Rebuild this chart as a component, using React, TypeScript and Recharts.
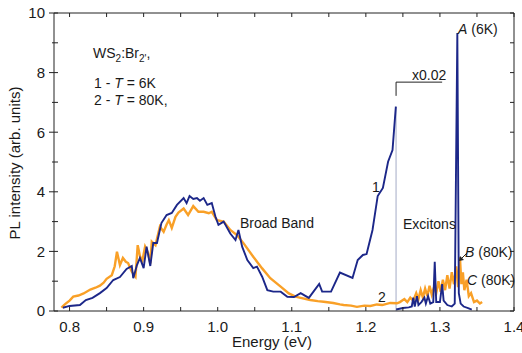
import React from "react";
import { LineChart, Line, XAxis, YAxis, ReferenceLine } from "recharts";

// curve 2 (T = 80K)
const orangeE = [
	0.789, 0.794, 0.8, 0.805, 0.812, 0.819, 0.828, 0.835, 0.841, 0.846, 0.85, 0.857, 0.861, 0.864, 0.868, 0.872,
	0.876, 0.879, 0.884, 0.889, 0.892, 0.895, 0.898, 0.902, 0.906, 0.909, 0.911, 0.916, 0.922, 0.927, 0.931, 0.934,
	0.938, 0.943, 0.947, 0.954, 0.96, 0.967, 0.974, 0.981, 0.988, 0.992, 0.999, 1.008, 1.017, 1.026, 1.035, 1.048,
	1.06, 1.071, 1.085, 1.096, 1.105, 1.112, 1.125, 1.135, 1.143, 1.156, 1.165, 1.17, 1.18, 1.188, 1.198, 1.206,
	1.215, 1.222, 1.233, 1.242, 1.246, 1.252, 1.256, 1.26, 1.264, 1.268, 1.271, 1.274, 1.277, 1.28, 1.283, 1.286,
	1.289, 1.292, 1.295, 1.298, 1.301, 1.304, 1.307, 1.31, 1.313, 1.316, 1.319, 1.322, 1.3245, 1.327, 1.329, 1.331,
	1.333, 1.336, 1.339, 1.342, 1.346, 1.35, 1.354, 1.357,
];
const orangeI = [
	0.11, 0.23, 0.35, 0.48, 0.52, 0.59, 0.72, 0.78, 0.85, 0.95, 1.08, 1.2, 1.5, 1.99, 1.54, 1.78,
	1.65, 1.61, 1.32, 1.15, 2.21, 1.85, 1.65, 2.16, 1.95, 1.6, 2.33, 2.21, 2.83, 2.66, 2.9, 3.05,
	2.79, 3.16, 3.3, 3.44, 3.22, 3.52, 3.33, 3.33, 3.28, 3.33, 3.05, 3.0, 2.72, 2.55, 2.27, 1.82,
	1.43, 1.1, 0.82, 0.59, 0.48, 0.44, 0.37, 0.33, 0.31, 0.27, 0.22, 0.2, 0.18, 0.14, 0.18, 0.17,
	0.22, 0.2, 0.27, 0.26, 0.3, 0.4, 0.3, 0.45, 0.35, 0.6, 0.4, 0.7, 0.45, 0.75, 0.5, 0.85,
	0.55, 0.8, 0.6, 1.0, 0.65, 1.05, 0.7, 1.2, 0.75, 1.3, 0.9, 1.5, 0.8, 1.8, 0.9, 1.3,
	0.7, 1.05, 0.5, 0.6, 0.3, 0.35, 0.25, 0.3,
];

// curve 1 (T = 6K); null breaks the line where the x0.02 part starts
const blueE = [
	0.791, 0.8, 0.814, 0.822, 0.831, 0.841, 0.85, 0.859, 0.868, 0.877, 0.884, 0.886, 0.891, 0.895, 0.9, 0.904,
	0.909, 0.913, 0.918, 0.924, 0.931, 0.938, 0.945, 0.954, 0.958, 0.962, 0.967, 0.972, 0.976, 0.981, 0.986, 0.992,
	0.997, 1.001, 1.008, 1.017, 1.024, 1.028, 1.033, 1.04, 1.048, 1.053, 1.06, 1.067, 1.075, 1.085, 1.094, 1.103,
	1.112, 1.123, 1.137, 1.141, 1.153, 1.165, 1.182, 1.189, 1.196, 1.201, 1.209, 1.216, 1.223, 1.23, 1.236, 1.2405,
	1.2407, 1.2409, 1.25, 1.258, 1.262, 1.264, 1.266, 1.269, 1.271, 1.275, 1.279, 1.281, 1.284, 1.287, 1.291, 1.293,
	1.295, 1.3, 1.303, 1.305, 1.31, 1.316, 1.32, 1.3235, 1.3255, 1.328, 1.332, 1.338, 1.343,
];
const blueI = [
	0.11, 0.17, 0.2, 0.37, 0.44, 0.6, 0.77, 1.04, 1.14, 1.41, 1.51, 1.1, 1.54, 1.78, 1.44, 2.16,
	1.51, 2.28, 2.28, 2.95, 3.22, 3.29, 3.56, 3.79, 3.62, 3.86, 3.76, 3.79, 3.7, 3.79, 3.56, 3.62,
	3.16, 2.89, 3.0, 2.6, 2.38, 2.72, 2.16, 1.71, 1.44, 1.49, 1.15, 0.7, 0.65, 0.65, 0.48, 0.47,
	0.6, 0.44, 0.91, 0.65, 0.65, 1.29, 1.11, 1.71, 1.88, 1.91, 2.72, 3.86, 4.13, 5.01, 5.4, 6.86,
	null, 0.05, 0.1, 0.12, 0.15, 0.45, 0.15, 0.5, 0.2, 0.3, 0.45, 0.25, 0.5, 0.25, 0.3, 1.65,
	0.3, 0.3, 0.9, 0.35, 0.2, 0.15, 0.25, 9.33, 0.6, 0.25, 0.15, 0.1, 0.05,
];

const xTicks = [0.8, 0.85, 0.9, 0.95, 1.0, 1.05, 1.1, 1.15, 1.2, 1.25, 1.3, 1.35, 1.4];
const xLabelTicks = [0.8, 0.9, 1.0, 1.1, 1.2, 1.3, 1.4];
const yTicks = [0, 1, 2, 3, 4, 5, 6, 7, 8, 9, 10];
const yLabelTicks = [0, 2, 4, 6, 8, 10];

const orangeData = orangeE.map((e, i) => ({ e, v: orangeI[i] }));
const blueData = blueE.map((e, i) => ({ e, v: blueI[i] }));

const BLUE = "#1c2789";
const ORANGE = "#f9a027";
const FONT = "'Liberation Sans', Arial, sans-serif";
const INK = "#1a1a1a";
const AXIS = "#222";

// plot frame in pixels (chart margins + axis sizes)
const PLOT = { left: 54, right: 514, top: 13, bottom: 311 };

const isLabelled = (v: number, list: number[]) => list.some((t) => Math.abs(t - v) < 1e-6);

// bottom/top inward tick marks + label at the major values
const XTick = ({ x, y, payload }: any) => {
	const v = payload.value as number;
	return (
		<g>
			<line x1={x} x2={x} y1={PLOT.bottom} y2={PLOT.bottom - 4} stroke={AXIS} />
			<line x1={x} x2={x} y1={PLOT.top} y2={PLOT.top + 4} stroke={AXIS} />
			{isLabelled(v, xLabelTicks) && (
				<text x={x} y={y} dy="0.71em" textAnchor="middle" fontSize={15} fill={INK} fontFamily={FONT}>
					{v.toFixed(1)}
				</text>
			)}
		</g>
	);
};

// left ticks cross the axis, right ones point inward
const YTick = ({ x, y, payload }: any) => {
	const v = payload.value as number;
	const major = isLabelled(v, yLabelTicks);
	return (
		<g>
			<line x1={PLOT.left - (major ? 5 : 2)} x2={PLOT.left + 4} y1={y} y2={y} stroke={AXIS} />
			<line x1={PLOT.right} x2={PLOT.right - 4} y1={y} y2={y} stroke={AXIS} />
			{major && (
				<text x={x} y={y} dy="0.355em" textAnchor="end" fontSize={15} fill={INK} fontFamily={FONT}>
					{v}
				</text>
			)}
		</g>
	);
};

const App: React.FC = () => {
	return (
		<div
			style={{
				position: "absolute",
				left: 0,
				top: 0,
				width: 522,
				height: 353,
				background: "#fff",
				fontFamily: FONT,
			}}
		>
			<LineChart
				width={522}
				height={353}
				margin={{ top: 13, right: 8, left: 0, bottom: 0 }}
			>
				<XAxis
					type="number"
					dataKey="e"
					domain={[0.779, 1.4]}
					allowDataOverflow
					ticks={xTicks}
					interval={0}
					height={42}
					tickLine={false}
					tickSize={6}
					tickMargin={4}
					stroke={AXIS}
					tick={<XTick />}
				/>
				<YAxis
					type="number"
					domain={[0, 10]}
					ticks={yTicks}
					interval={0}
					width={54}
					tickLine={false}
					tickSize={5}
					tickMargin={4}
					stroke={AXIS}
					tick={<YTick />}
				/>

				{/* frame: top and right edges */}
				<ReferenceLine y={10} stroke={AXIS} strokeWidth={1} />
				<ReferenceLine x={1.4} stroke={AXIS} strokeWidth={1} />

				<ReferenceLine
					segment={[
						{ x: 1.2408, y: 0 },
						{ x: 1.2408, y: 6.86 },
					]}
					stroke="#c3c7d9"
					strokeWidth={1.5}
				/>
				<ReferenceLine
					segment={[
						{ x: 1.2408, y: 7.22 },
						{ x: 1.2408, y: 7.68 },
					]}
					stroke={AXIS}
					strokeWidth={1}
				/>
				<ReferenceLine
					segment={[
						{ x: 1.2408, y: 7.68 },
						{ x: 1.303, y: 7.68 },
					]}
					stroke={AXIS}
					strokeWidth={1}
				/>

				<Line
					data={orangeData}
					dataKey="v"
					type="linear"
					stroke={ORANGE}
					strokeWidth={2.4}
					dot={false}
					isAnimationActive={false}
				/>
				<Line
					data={blueData}
					dataKey="v"
					type="linear"
					stroke={BLUE}
					strokeWidth={1.9}
					dot={false}
					connectNulls={false}
					isAnimationActive={false}
				/>
			</LineChart>

			<svg
				width={522}
				height={353}
				style={{ position: "absolute", left: 0, top: 0, pointerEvents: "none" }}
				fontFamily={FONT}
				fill={INK}
			>
				<text x={14} y={163} fontSize={15} textAnchor="middle" dominantBaseline="central" transform="rotate(-90 14 163)">
					PL intensity (arb. units)
				</text>
				<text x={272} y={347} fontSize={15} textAnchor="middle">
					Energy (eV)
				</text>

				<text x={93} y={58} fontSize={14}>
					WS<tspan fontSize={10} dy={4}>2</tspan>
					<tspan dy={-4}>:Br</tspan>
					<tspan fontSize={10} dy={4}>2'</tspan>
					<tspan dy={-4}>,</tspan>
				</text>
				<text x={94} y={88} fontSize={14}>
					1 - <tspan fontStyle="italic">T</tspan> = 6K
				</text>
				<text x={94} y={105} fontSize={14}>
					2 - <tspan fontStyle="italic">T</tspan> = 80K,
				</text>

				<text x={412} y={80} fontSize={14}>x0.02</text>
				<text x={458} y={34} fontSize={14}>
					<tspan fontStyle="italic">A</tspan> (6K)
				</text>
				<text x={240} y={228} fontSize={14}>Broad Band</text>
				<text x={403} y={229} fontSize={14}>Excitons</text>
				<text x={376} y={192} fontSize={14} textAnchor="middle">1</text>
				<text x={382} y={302} fontSize={14} textAnchor="middle">2</text>
				<text x={465} y={257} fontSize={14}>
					<tspan fontStyle="italic">B</tspan> (80K)
				</text>
				<text x={467} y={285} fontSize={14}>
					<tspan fontStyle="italic">C</tspan> (80K)
				</text>
				<line x1={467} y1={253} x2={461} y2={259} stroke={AXIS} strokeWidth={1} />
				<polygon points="459,261 460,256 464,260" fill={AXIS} />
			</svg>
		</div>
	);
};

export default App;
